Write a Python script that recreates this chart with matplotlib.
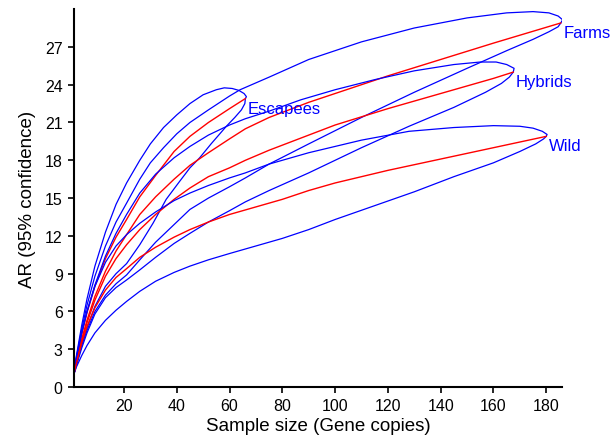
import matplotlib
matplotlib.use('Agg')
import matplotlib.pyplot as plt

plt.rcParams['font.family'] = ['Liberation Sans', 'DejaVu Sans']

groups = ['Escapees', 'Farms', 'Hybrids', 'Wild']

# mean rarefaction curves (red)
red_x = {
    'Escapees': [1, 2, 4, 6, 9, 13, 17, 21, 26, 32, 39, 45, 52, 60, 66],
    'Farms': [1, 2, 4, 6, 9, 13, 17, 21, 26, 32, 39, 45, 52, 60, 66, 75, 90, 100, 120, 140, 160, 185.5],
    'Hybrids': [1, 2, 4, 6, 9, 13, 17, 21, 26, 32, 39, 45, 52, 60, 66, 75, 90, 100, 120, 140, 160, 167.5],
    'Wild': [1, 2, 4, 6, 9, 13, 17, 21, 26, 32, 39, 45, 52, 60, 70, 80, 90, 100, 120, 140, 160, 180],
}
red_y = {
    'Escapees': [1, 2.2, 4.2, 5.9, 8.0, 10.2, 11.9, 13.3, 15.1, 16.8, 18.7, 19.9, 21.0, 22.1, 22.9],
    'Farms': [1, 2.0, 3.8, 5.3, 7.2, 9.2, 10.8, 12.1, 13.7, 15.1, 16.5, 17.6, 18.6, 19.7, 20.5, 21.4, 22.6, 23.3, 24.7, 26.0, 27.3, 28.9],
    'Hybrids': [1, 2.0, 3.7, 5.1, 6.9, 8.8, 10.2, 11.3, 12.5, 13.7, 14.9, 15.8, 16.7, 17.4, 18.0, 18.8, 20.0, 20.8, 22.1, 23.3, 24.5, 25.0],
    'Wild': [1, 1.9, 3.5, 4.8, 6.3, 7.7, 8.7, 9.4, 10.3, 11.1, 11.9, 12.5, 13.1, 13.7, 14.3, 14.9, 15.6, 16.2, 17.2, 18.1, 19.0, 19.9],
}

# upper 95% bound (blue), from the start to the tip of the loop
up_x = {
    'Escapees': [1, 2, 4, 6, 9, 13, 17, 21, 26, 30, 35, 40, 45, 50, 55, 58, 61, 63.5, 65.5, 66.4, 66],
    'Farms': [1, 2, 4, 6, 9, 13, 17, 21, 26, 30, 35, 40, 45, 52, 60, 64, 75, 90, 110, 130, 150, 165, 175, 181, 184.5, 186.2, 185.5],
    'Hybrids': [1, 2, 4, 6, 9, 13, 17, 21, 26, 32, 39, 45, 52, 60, 66, 75, 87, 100, 115, 130, 145, 155, 161, 165, 167.8, 167.5],
    'Wild': [1, 2, 4, 6, 9, 13, 17, 21, 26, 32, 39, 45, 52, 60, 66, 75, 90, 110, 128, 145, 160, 170, 175, 178.5, 180.3, 180],
}
up_y = {
    'Escapees': [1, 2.5, 4.9, 7.0, 9.6, 12.3, 14.5, 16.2, 18.0, 19.3, 20.6, 21.6, 22.5, 23.2, 23.6, 23.75, 23.7, 23.55, 23.3, 23.05, 22.9],
    'Farms': [1, 2.4, 4.6, 6.5, 8.8, 11.2, 13.1, 14.6, 16.5, 17.8, 19.0, 20.1, 21.0, 22.0, 23.1, 23.6, 24.6, 26.0, 27.4, 28.5, 29.3, 29.7, 29.8, 29.7, 29.45, 29.15, 28.9],
    'Hybrids': [1, 2.3, 4.3, 6.0, 8.1, 10.4, 12.2, 13.7, 15.4, 16.9, 18.2, 19.1, 20.0, 20.8, 21.3, 21.9, 22.8, 23.6, 24.4, 25.1, 25.6, 25.8, 25.8, 25.6, 25.3, 25.0],
    'Wild': [1, 2.3, 4.3, 6.0, 8.0, 9.9, 11.2, 12.1, 13.0, 13.9, 14.8, 15.4, 16.0, 16.6, 17.0, 17.7, 18.6, 19.6, 20.3, 20.6, 20.75, 20.7, 20.55, 20.3, 20.05, 19.9],
}

# lower 95% bound (blue), from the start to the tip of the loop
low_x = {
    'Escapees': [1, 2, 4, 6, 9, 13, 17, 21, 26, 31, 36, 41, 45, 48.7, 53, 58.8, 62, 64.5, 65.8, 66],
    'Farms': [1, 2, 4, 6, 9, 13, 17, 21, 26, 32, 39, 45, 52, 60, 66, 75, 90, 110, 130, 150, 165, 175, 181, 184.5, 185.5],
    'Hybrids': [1, 2, 4, 6, 9, 13, 17, 21, 26, 32, 39, 45, 52, 60, 66, 75, 90, 110, 128, 145, 157, 163, 166, 167.5],
    'Wild': [1, 2, 4, 6, 9, 13, 17, 21, 26, 32, 39, 45, 52, 60, 70, 80, 90, 100, 115, 130, 145, 160, 170, 176, 179, 180],
}
low_y = {
    'Escapees': [1, 1.9, 3.4, 4.7, 6.4, 8.0, 9.0, 9.8, 11.3, 13.0, 14.9, 16.3, 17.4, 18.2, 19.3, 20.7, 21.4, 22.0, 22.5, 22.9],
    'Farms': [1, 1.8, 3.3, 4.5, 6.0, 7.3, 8.2, 8.9, 10.1, 11.5, 12.9, 14.1, 15.0, 15.9, 16.6, 17.7, 19.3, 21.4, 23.4, 25.3, 26.7, 27.6, 28.2, 28.6, 28.9],
    'Hybrids': [1, 1.7, 3.1, 4.3, 5.8, 7.1, 7.9, 8.5, 9.3, 10.3, 11.4, 12.2, 13.1, 14.0, 14.7, 15.6, 17.0, 19.0, 20.7, 22.2, 23.4, 24.1, 24.6, 25.0],
    'Wild': [1, 1.6, 2.5, 3.3, 4.3, 5.3, 6.1, 6.8, 7.6, 8.4, 9.1, 9.6, 10.1, 10.6, 11.2, 11.8, 12.5, 13.3, 14.4, 15.5, 16.7, 17.8, 18.7, 19.3, 19.7, 19.9],
}

fig = plt.figure(figsize=(6.15, 4.39), dpi=100)
ax = fig.add_axes([0.120, 0.116, 0.794, 0.861])

for g in groups:
    lx = up_x[g] + low_x[g][::-1]
    ly = up_y[g] + low_y[g][::-1]
    ax.plot(lx, ly, color='#0000ff', lw=0.9)
    ax.plot(red_x[g], red_y[g], color='#ff0000', lw=1.0)
    ax.text(red_x[g][-1] + 1.0, red_y[g][-1] - 0.75, g, color='#0000ff',
            fontsize=12, ha='left', va='center')

ax.set_xlim(1, 186)
ax.set_ylim(0, 30)
ax.set_xticks(range(20, 181, 20))
ax.set_yticks(range(0, 28, 3))
ax.spines['top'].set_visible(False)
ax.spines['right'].set_visible(False)
ax.spines['left'].set_linewidth(1.5)
ax.spines['bottom'].set_linewidth(1.5)
ax.tick_params(direction='out', length=4, width=1.2, labelsize=11.5, pad=4)
ax.set_xlabel('Sample size (Gene copies)', fontsize=13.5, labelpad=3)
ax.set_ylabel('AR (95% confidence)', fontsize=13.5, labelpad=6)

fig.savefig('out.png', dpi=100)
